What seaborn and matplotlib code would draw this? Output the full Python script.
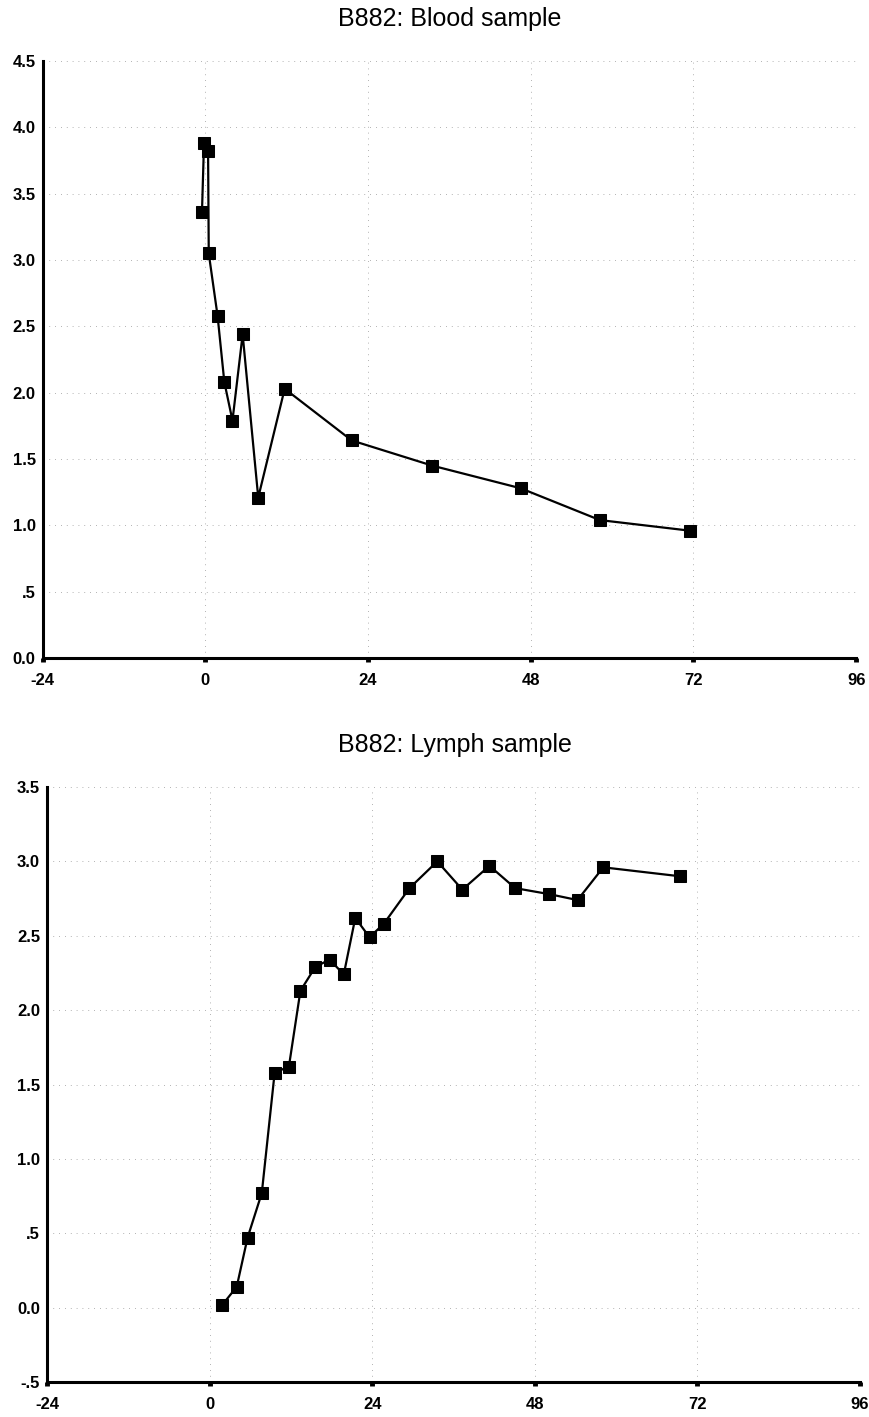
import seaborn as sns
import matplotlib.pyplot as plt
import matplotlib.ticker as mticker
import pandas as pd

# data
blood_hours = [-0.5, -0.2, 0.4, 0.5, 1.8, 2.8, 4.0, 5.5, 7.8, 11.7, 21.6, 33.5, 46.5, 58.2, 71.5]
blood_values = [3.36, 3.88, 3.82, 3.05, 2.58, 2.08, 1.79, 2.44, 1.21, 2.03, 1.64, 1.45, 1.28, 1.04, 0.96]

lymph_hours = [1.9, 4.0, 5.6, 7.7, 9.6, 11.7, 13.4, 15.6, 17.7, 19.8, 21.5, 23.6,
               25.7, 29.5, 33.6, 37.3, 41.3, 45.1, 50.1, 54.3, 58.1, 69.4]
lymph_values = [0.02, 0.14, 0.47, 0.77, 1.58, 1.62, 2.13, 2.29, 2.34, 2.24, 2.62, 2.49,
                2.58, 2.82, 3.00, 2.81, 2.97, 2.82, 2.78, 2.74, 2.96, 2.90]

x_ticks = [-24, 0, 24, 48, 72, 96]
blood_yticks = [0.0, 0.5, 1.0, 1.5, 2.0, 2.5, 3.0, 3.5, 4.0, 4.5]
lymph_yticks = [-0.5, 0.0, 0.5, 1.0, 1.5, 2.0, 2.5, 3.0, 3.5]

blood = pd.DataFrame({'hours': blood_hours, 'value': blood_values})
lymph = pd.DataFrame({'hours': lymph_hours, 'value': lymph_values})

sns.set_theme(style="white")
plt.rcParams['font.family'] = ['Liberation Sans', 'DejaVu Sans']
plt.rcParams['axes.unicode_minus'] = False
plt.rcParams['text.color'] = 'black'
plt.rcParams['xtick.color'] = 'black'
plt.rcParams['ytick.color'] = 'black'


def fmt_y(v, pos):
    s = f"{v:.1f}"
    if s.startswith("0.") and v != 0:
        s = s[1:]
    if s.startswith("-0."):
        s = "-" + s[2:]
    return s


def style_axis(ax, yticks):
    ax.set_xlim(-24, 96)
    ax.set_ylim(yticks[0], yticks[-1])
    ax.set_xticks(x_ticks)
    ax.set_yticks(yticks)
    ax.yaxis.set_major_formatter(mticker.FuncFormatter(fmt_y))
    ax.grid(True, linestyle=(0, (1, 6)), color='#999999', linewidth=0.6)
    for side in ['top', 'right']:
        ax.spines[side].set_visible(False)
    for side in ['left', 'bottom']:
        ax.spines[side].set_linewidth(2.2)
        ax.spines[side].set_color('black')
    ax.tick_params(axis='x', bottom=True, direction='out', length=3, width=3.5, pad=8,
                   labelsize=12, color='black', labelcolor='black')
    ax.tick_params(axis='y', left=False, length=0, pad=5, labelsize=12, labelcolor='black')
    for lab in ax.get_xticklabels() + ax.get_yticklabels():
        lab.set_fontweight('bold')
    ax.set_xlabel('')
    ax.set_ylabel('')


fig = plt.figure(figsize=(8.69, 14.17), dpi=100)

ax1 = fig.add_axes([0.0491, 0.5356, 0.9361, 0.4213])
sns.lineplot(data=blood, x='hours', y='value', sort=False, ax=ax1, color='black',
             linewidth=1.6, marker='s', markersize=8.5, markeredgecolor='black')
style_axis(ax1, blood_yticks)
fig.text(0.518, 0.9866, 'B882: Blood sample', ha='center', va='center', fontsize=18,
         color='black')

ax2 = fig.add_axes([0.0541, 0.0247, 0.9356, 0.4199])
sns.lineplot(data=lymph, x='hours', y='value', sort=False, ax=ax2, color='black',
             linewidth=1.6, marker='s', markersize=8.5, markeredgecolor='black')
style_axis(ax2, lymph_yticks)
fig.text(0.524, 0.4742, 'B882: Lymph sample', ha='center', va='center', fontsize=18,
         color='black')

fig.savefig('out.png', dpi=100)
plt.close()
